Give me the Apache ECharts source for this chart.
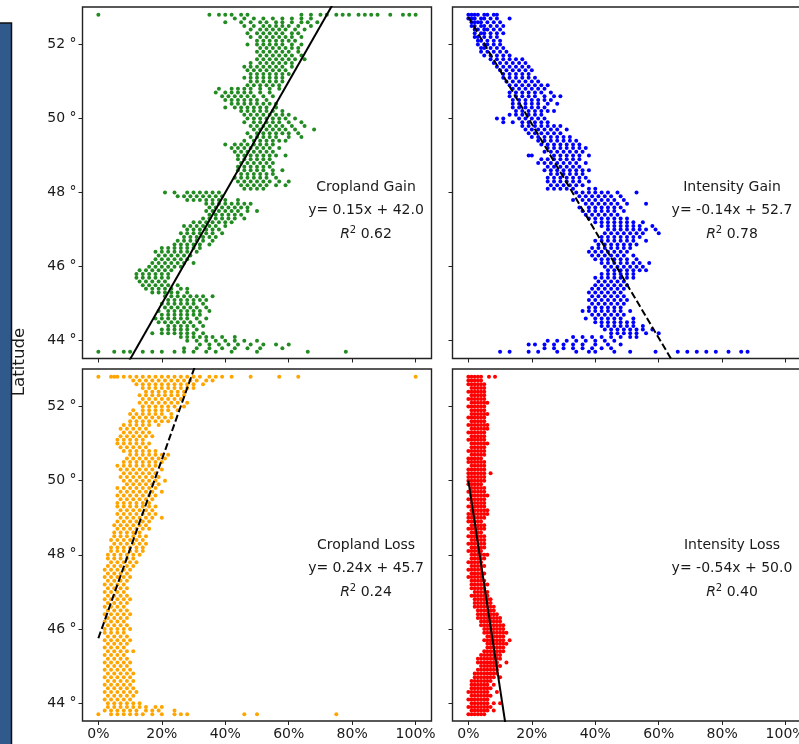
<!DOCTYPE html>
<html>
<head>
<meta charset="utf-8">
<script src="https://cdn.jsdelivr.net/npm/echarts@6.0.0/dist/echarts.min.js"></script>
<style>
  html, body { margin: 0; padding: 0; background: #fff; }
  #chart { width: 799px; height: 744px; }
</style>
</head>
<body>
<div id="chart"></div>
<script>
// latitude rows (top to bottom), one row of x values per latitude in each panel
const latitudes = [52.8,52.7,52.6,52.5,52.4,52.3,52.2,52.1,52.0,51.9,51.8,51.7,51.6,51.5,51.4,51.3,51.2,51.1,51.0,
  50.9,50.8,50.7,50.6,50.5,50.4,50.3,50.2,50.1,50.0,49.9,49.8,49.7,49.6,49.5,49.4,49.3,49.2,49.1,49.0,
  48.9,48.8,48.7,48.6,48.5,48.4,48.3,48.2,48.1,48.0,47.9,47.8,47.7,47.6,47.5,47.4,47.3,47.2,47.1,47.0,
  46.9,46.8,46.7,46.6,46.5,46.4,46.3,46.2,46.1,46.0,45.9,45.8,45.7,45.6,45.5,45.4,45.3,45.2,45.1,45.0,
  44.9,44.8,44.7,44.6,44.5,44.4,44.3,44.2,44.1,44.0,43.9,43.8,43.7];

const cropGainX = [
  [0,35,38,40,42,45,47,64,67,70,72,75,77,79,82,84,86,88,92,96,98,100],
  [43,46,49,52,55,58,61,64,67],[40,45,48,51,53,56,58,61,64,66,69],[46,49,52,54,56,58,60,63,67],
  [48,51,53,55,57,59,62,65],[47,50,52,54,56,58,61,63],[48,51,53,55,57,59,61,64],[50,52,54,56,58,60,62],
  [47,50,52,54,56,58,61,64],
  // 51.9
  [51,53,55,57,59,61,63],[50,52,54,56,58,60,63],[51,53,55,57,59,61,64],[50,52,54,56,58,60,62,65],
  [48,51,53,55,57,59,61],[46,48,50,52,54,56,58,61],[47,49,51,53,55,57,59],[48,50,52,54,56,58,60],
  [46,48,50,52,54,56,58],[48,50,52,54,56,58],
  // 50.9
  [47,49,51,53,55,57],[38,42,44,46,48,51,54,57],[37,40,42,44,46,48,51,54],[39,41,43,45,47,49,52,55],
  [40,42,44,46,48,50,53],[42,44,46,48,50,52,54,56],[40,43,45,47,49,51,53,56],[45,47,49,51,53,55,58],
  [46,48,50,52,54,56,58,60],[47,49,51,53,55,57,59,62],
  // 49.9
  [46,49,51,53,55,57,60,64],[48,50,52,54,56,58,61,65],[49,51,53,55,57,59,62,68],[47,50,52,54,56,58,60,63],
  [48,50,52,54,56,60,64],[46,49,51,53,55,57,59],[40,43,45,47,49,51,53,55],[42,44,46,48,50,52,54,57],
  [43,45,47,49,51,53,55],[44,46,48,50,52,54,56,59],
  // 48.9
  [44,46,48,50,52,54],[45,47,49,51,53,55],[44,46,48,50,52,54],[44,46,48,50,52,55,58],
  [45,47,49,51,53,55],[43,45,47,49,51,53,56],[44,46,48,50,52,54,57,60],[45,47,49,51,53,56,59],
  [46,48,50,52],[21,24,28,30,32,34,36,38],
  // 47.9
  [25,27,29,31,33,35,37,39],[28,30,32,34,36,38,40,44],[34,36,38,40,42,44,46,48],[35,37,39,41,43,45,47],
  [34,36,38,40,42,44,47,50],[35,37,39,41,43,45],[33,35,37,39,41,43,46],[30,32,34,36,38,40,42],
  [27,29,31,33,35,37,40],[28,30,32,34,36,38],
  // 46.9
  [26,28,30,32,34,36,39],[27,29,31,33,35,37],[25,27,29,31,33,36],[24,26,28,30,32,35],
  [20,22,24,26,28,30,32],[18,20,22,24,26,28,31],[19,21,23,25,27,29],[18,20,22,24,26,28],
  [17,19,21,23,25,27,30],[16,18,20,22,24,26],
  // 45.9
  [13,15,17,19,21,23],[12,14,16,18,20,22],[12,14,16,18,20,22],[13,15,17,19,21],
  [14,16,18,20,22,25],[15,17,19,21,23,26,28],[17,19,21,23,25,28],[21,23,25,27,29,31,33,36],
  [22,24,26,28,30,32,34],[20,22,24,26,28,30,33],
  // 44.9
  [21,23,25,27,29,31,34],[19,22,24,26,28,30,32,35],[20,22,24,26,28,30,32],[18,20,22,24,26,28,31,34],
  [19,21,23,25,27,29,32],[22,24,26,28,30,33],[20,22,24,26,28,31],[17,20,22,24,26,28,30,33],
  [26,28,30,32,34,36,39,43],[28,31,34,37,40,43,46,50],
  // 43.9
  [32,35,38,41,44,48,52,56,60],[27,31,35,39,43,47,51,58],
  [0,5,8,10,14,17,20,24,27,30,34,37,42,50,66,78]
];

const intensityGainX = [
  [0,1,2,3,5,6,8,9],
  [0,1,2,4,5,7,9,13],[1,2,3,4,6,8,10],[1,2,4,5,7,9,11],[2,3,5,6,8,10],[2,4,5,7,9,11],
  [2,3,5,7,9],[3,4,6,8,10],[3,5,6,8,10],
  // 51.9
  [4,5,7,9,11],[4,6,8,10,12],[5,7,9,11,13],[7,9,11,13,15,17],[8,10,12,14,16,18],
  [9,11,13,15,17,19],[10,12,14,16,18,20],[11,13,15,17,19],[11,13,15,17,19,21],[12,14,16,18,20,22],
  // 50.9
  [13,15,17,19,21,23,25],[14,16,18,20,22,24],[13,15,17,19,21,23,26],[13,15,17,19,21,24,27,29],
  [14,16,18,20,22,24,26],[14,16,18,20,22,25,28],[14,16,18,20,22,24],[15,17,19,21,23,25,27],
  [13,15,17,19,21,23],[9,11,16,18,20,22,24],
  // 49.9
  [11,14,17,19,21,23,25],[17,19,21,23,25,27,29],[18,20,22,24,26,28,31],[19,21,23,25,27,29],
  [20,22,24,26,28,30,32],[22,24,26,28,30,32,34],[23,25,27,29,31,33,35],[25,27,29,31,33,35,37],
  [24,26,28,30,32,34,36],[19,20,27,29,31,33,35,38],
  // 48.9
  [23,25,27,29,31,33,35],[22,24,26,28,30,32,34,37],[25,27,29,31,33,35],[24,26,28,30,32,34,36,38],
  [26,28,30,32,34,36],[25,27,29,31,33,35,37],[25,27,29,31,33,35,38],[26,28,30,32,34,36],
  [25,27,29,31,33,38,40],[34,36,38,40,42,44,47,53],
  // 47.9
  [35,37,39,41,43,45,48],[33,36,38,40,42,44,46,49],[37,39,41,43,45,47,50,56],[35,38,40,42,44,46,48],
  [36,38,40,42,44,46,49],[37,39,41,43,45,47],[38,40,42,44,46,48,50],[40,42,44,46,48,50,52,55],
  [42,44,46,48,50,52,54,58],[44,46,48,50,52,54,56,59],
  // 46.9
  [43,45,47,49,51,53,55,60],[42,44,46,48,50,52,54],[40,42,44,46,48,50,52,56],[41,43,45,47,49,51,53],
  [39,41,43,45,47,49,51],[38,40,42,44,46,48,50],[39,41,43,45,47,49,52],[40,42,44,46,48,50,53],
  [42,44,46,48,50,52,54,57],[43,45,47,49,51,53,55],
  // 45.9
  [44,46,48,50,52,54,56],[42,44,46,48,50,52],[40,42,44,46,48,50,52],[41,43,45,47,49],
  [40,42,44,46,48,50],[39,41,43,45,47,49],[38,40,42,44,46,48],[39,41,43,45,47,49],
  [38,40,42,44,46,48,50],[39,41,43,45,47,49],
  // 44.9
  [38,40,42,44,46,48],[36,38,40,42,44,46,48,51],[39,41,43,45,47,49],[37,40,42,44,46,48,52],
  [40,42,44,46,48,50,52],[42,44,46,48,50,52,55],[43,45,47,49,51,53,55,58],[45,47,49,51,53,56,60],
  [33,36,39,42,45,48,51,53],[25,28,31,34,37,40,43,46],
  // 43.9
  [19,21,24,27,30,33,36,40,44,48],[24,27,30,33,36,39,42,45],
  [10,13,19,22,28,34,38,40,46,51,59,66,69,72,75,78,82,86,88]
];

const cropLossX = [
  [0,4,5,6,8,10,12,14,16,18,20,22,24,26,28,30,32,35,37,39,42,48,57,63,100],
  [11,13,15,17,19,21,23,25,27,29,31,34,36],[12,14,16,18,20,22,24,26,28,30,33],[14,16,18,20,22,24,26,28,30],
  [15,17,19,21,23,25,27],[13,15,17,19,21,23,25,27],[14,16,18,20,22,24,26],[13,15,17,19,21,23,25,28],
  [14,16,18,20,22,24,27],
  // 51.9
  [11,14,16,18,20,22,25],[10,12,14,16,18,20,23],[11,13,15,17,19,21,23],[10,12,14,16,18,20,22],
  [8,10,12,14,16,19],[7,9,11,13,15],[8,10,12,14,16],[7,9,11,13,15,17],[6,8,10,12,14],[6,8,10,12,14,16],
  // 50.9
  [7,9,11,13,15],[8,10,12,14,16,18],[10,12,14,16,18,20,22],[9,11,13,15,17,19,21],[8,10,12,14,16,18,20],
  [6,8,10,12,14,16,18],[7,9,11,13,15,17,20],[8,10,12,14,16,18],[7,9,11,13,15,17,19],[8,10,12,14,16,18,21],
  // 49.9
  [9,11,13,15,17,19],[6,8,10,12,14,16,18],[7,9,11,13,15,17,20],[6,8,10,12,14,16,18],[7,9,11,13,15,17],
  [6,8,10,12,14,16],[6,8,10,12,14,16,18],[7,9,11,13,15,17],[6,8,10,12,14,16,18],[7,9,11,13,15,17,20],
  // 48.9
  [6,8,10,12,14,16],[5,7,9,11,13,15],[6,8,10,12,14,16],[5,7,9,11,13],[5,7,9,11,13,15],
  [4,6,8,10,12,14],[5,7,9,11,13,15],[4,6,8,10,12,14],[4,6,8,10,12,14],[3,5,7,9,11,13],
  // 47.9
  [3,5,7,9,11],[4,6,8,10,12],[3,5,7,9,11],[2,4,6,8,10],[3,5,7,9],
  [2,4,6,8,10],[3,5,7,9],[2,4,6,8],[3,5,7,9],[2,4,6,8],
  // 46.9
  [3,5,7,9],[2,4,6,8,10],[3,5,7,9],[2,4,6,8],[3,5,7,9],
  [2,4,6,8,10],[3,5,7,9],[2,4,6,8],[3,5,7,9],[2,4,6,8,10],
  // 45.9
  [2,4,6,8],[3,5,7,9],[2,4,6,8,10],[3,5,7,9],[2,4,6,8],
  [3,5,7,9,11],[2,4,6,8],[3,5,7,9],[2,4,6,8,10],[3,5,7,9],
  // 44.9
  [2,4,6,8,10],[3,5,7,9,11],[2,4,6,8,10],[3,5,7,9,11],[2,4,6,8,10],
  [3,5,7,9,11],[2,4,6,8,10,12],[3,5,7,9,11],[2,4,6,8,10],[3,5,7,9,11,13],
  // 43.9
  [3,5,7,9,11,13,15,18,20],[2,4,6,8,10,12,15,17,19,24],
  [0,4,6,8,10,12,14,17,20,24,26,28,46,50,75]
];

const intensityLossX = [
  [0,1,2,3,4,6.5,8.4],
  [0,1,2,3,4],[0,1,2,3,4,5],[1,2,3,4,5],[0,1,2,3,4,5],[1,2,3,4,5],[0,1,2,3,4,5],[1,2,3,4,5,6],
  [0,1,2,3,4,5],
  // 51.9
  [1,2,3,4,5],[1,2,3,4,5,6],[0,1,2,3,4,5],[1,2,3,4,5],[0,1,2,3,4,5,6],
  [1,2,3,4,5,6],[0,1,2,3,4,5],[1,2,3,4,5],[0,1,2,3,4,5],[1,2,3,4,5,6],
  // 50.9
  [1,2,3,4,5],[0,1,2,3,4,5],[1,2,3,4,5],[0,1,2,3,4],[0,1,2,3,4,5],
  [1,2,3,4,5],[0,1,2,3,4,5],[0,1,2,3,4,5,7],[0,1,2,3,4,5],[0,1,2,3,4,5],
  // 49.9
  [0,1,2,3,4],[1,2,3,4,5],[0,1,2,3,4,5],[1,2,3,4,5,6],[0,1,2,3,4,5],
  [1,2,3,4,5],[0,1,2,3,4,5],[1,2,3,4,5,6],[0,1,2,3,4,5,6],[0,1,2,3,4,5],
  // 48.9
  [0,1,2,3,4],[1,2,3,4,5],[0,1,2,3,4,5],[1,2,3,4],[0,1,2,3,4,5],
  [1,2,3,4,5],[0,1,2,3,4,5],[1,2,3,4,5],[0,1,2,3,4],[1,2,3,4,5,6],
  // 47.9
  [1,2,3,4,5],[0,1,2,3,4],[1,2,3,4,5],[0,1,2,3,4],[1,2,3,4,5],
  [0,1,2,3,4],[1,2,3,4,5],[1,2,3,4,5,6],[1,2,3,4,5],[2,3,4,5,6],
  // 46.9
  [1,2,3,4,5,6],[2,3,4,5,6,7],[2,3,4,5,6,7],[2,3,4,5,6,7,8],[3,4,5,6,7,8],
  [3,4,5,6,7,8,9],[3,4,5,6,7,8,9,10],[4,5,6,7,8,9,10],[4,5,6,7,8,9,10,11],[5,6,7,8,9,10,11],
  // 45.9
  [5,6,7,8,9,10,11,12],[6,7,8,9,10,11],[5,6,7,8,9,10,11,13],[6,7,8,9,10,11,12],[6,7,8,9,10,11],
  [5,6,7,8,9,10,11],[4,5,6,7,8,9,10],[3,4,5,6,7,8,9,10],[3,4,5,6,7,8,9,12],[4,5,6,7,8,9,10],
  // 44.9
  [3,4,5,6,7,8,9],[2,3,4,5,6,7,8,9],[2,3,4,5,6,7,8,10],[1,2,3,4,5,6,7],[1,2,3,4,5,6,8],
  [1,2,3,4,5,6,7],[0,1,2,3,4,5,6,9],[1,2,3,4,5,6,7],[0,1,2,3,4,5,6],[1,2,3,4,5,6,8,10],
  // 43.9
  [0,1,2,3,4,5,6,7],[1,2,3,4,5,6,8],[0,1,2,3,4,5]
];

// regression lines, two end points each [x %, latitude]
const cropGainFit = [[0, 42.0], [100, 57.0]];
const intensityGainFit = [[0, 52.74], [70, 42.63]];
const cropLossFit = [[0, 45.75], [35, 54.18]];
const intensityLossFit = [[0, 50.0], [13, 42.7]];

const panelTitles = ['Cropland Gain', 'Intensity Gain', 'Cropland Loss', 'Intensity Loss'];
const equations = ['y= 0.15x + 42.0', 'y= -0.14x + 52.7', 'y= 0.24x + 45.7', 'y= -0.54x + 50.0'];
const rSquared = ['0.62', '0.78', '0.24', '0.40'];

const xTicks = [0, 20, 40, 60, 80, 100];
const yTicks = [44, 46, 48, 50, 52];

const FONT = 'DejaVu Sans';
const TXT = '#1a1a1a';

const panels = [
  { x: cropGainX, fit: cropGainFit, color: '#228b22', dashed: false },
  { x: intensityGainX, fit: intensityGainFit, color: '#0000ff', dashed: true },
  { x: cropLossX, fit: cropLossFit, color: '#ffa500', dashed: true },
  { x: intensityLossX, fit: intensityLossFit, color: '#ff0000', dashed: false },
];

// plot boxes in pixels
const boxes = [
  { left: 82.5, top: 7, width: 349, height: 351.5 },
  { left: 452.5, top: 7, width: 349, height: 351.5 },
  { left: 82.5, top: 369, width: 349, height: 352 },
  { left: 452.5, top: 369, width: 349, height: 352 },
];

const chart = echarts.init(document.getElementById('chart'), null, { renderer: 'canvas' });

const grid = boxes.map(b => ({
  left: b.left, top: b.top, width: b.width, height: b.height,
  show: true, borderColor: '#222', borderWidth: 1.4, backgroundColor: 'transparent',
  containLabel: false, outerBoundsMode: 'none',
}));

const xAxis = boxes.map((b, i) => ({
  type: 'value', gridIndex: i, min: -5, max: 105,
  axisLine: { show: false, onZero: false },
  splitLine: { show: false },
  axisTick: { show: true, customValues: xTicks, length: 4, lineStyle: { color: '#222', width: 1 } },
  axisLabel: {
    show: i >= 2, customValues: xTicks, formatter: v => v + '%',
    fontFamily: FONT, fontSize: 14, color: TXT, margin: 6,
  },
}));

const yAxis = boxes.map((b, i) => ({
  type: 'value', gridIndex: i, min: 43.52, max: 53.01,
  axisLine: { show: false, onZero: false },
  splitLine: { show: false },
  axisTick: { show: true, customValues: yTicks, length: 4, lineStyle: { color: '#222', width: 1 } },
  axisLabel: {
    show: i % 2 === 0, customValues: yTicks, formatter: v => v + ' °',
    fontFamily: FONT, fontSize: 14, color: TXT, margin: 6,
  },
}));

const series = [];
panels.forEach((p, i) => {
  const pts = [];
  p.x.forEach((row, r) => row.forEach(v => pts.push([v, latitudes[r]])));
  series.push({
    type: 'scatter', xAxisIndex: i, yAxisIndex: i, data: pts,
    symbol: 'circle', symbolSize: 4, itemStyle: { color: p.color, opacity: 1 },
    silent: true, z: 2,
  });
  series.push({
    type: 'line', xAxisIndex: i, yAxisIndex: i, data: p.fit,
    showSymbol: false, symbol: 'none', clip: true, silent: true, z: 3,
    lineStyle: { color: '#000', width: 2, type: p.dashed ? [7, 3] : 'solid' },
  });
});

const textCenters = [[366, 187], [732, 187], [366, 545], [732, 545]];
const graphic = [
  {
    type: 'rect', shape: { x: -3, y: 23, width: 14.5, height: 740 },
    style: { fill: '#2f5a8b', stroke: '#111', lineWidth: 1.5 }, silent: true,
  },
  {
    type: 'text', x: 20, y: 362, rotation: Math.PI / 2,
    style: { text: 'Latitude', font: '16.7px "DejaVu Sans"', fill: TXT, align: 'center', verticalAlign: 'middle' },
  },
];
textCenters.forEach(([cx, cy], i) => {
  graphic.push({
    type: 'text', x: cx, y: cy,
    style: { text: panelTitles[i], font: '14px "DejaVu Sans"', fill: TXT, align: 'center', verticalAlign: 'middle' },
  });
  graphic.push({
    type: 'text', x: cx, y: cy + 23.5,
    style: { text: equations[i], font: '14px "DejaVu Sans"', fill: TXT, align: 'center', verticalAlign: 'middle' },
  });
  graphic.push({
    type: 'text', x: cx, y: cy + 47,
    style: {
      text: '{i|R}{s|2}{n| ' + rSquared[i] + '}',
      align: 'center', verticalAlign: 'middle',
      rich: {
        i: { fontFamily: FONT, fontSize: 14, fontStyle: 'italic', fill: TXT, lineHeight: 18 },
        s: { fontFamily: FONT, fontSize: 10, fill: TXT, verticalAlign: 'top', lineHeight: 18 },
        n: { fontFamily: FONT, fontSize: 14, fill: TXT, lineHeight: 18 },
      },
    },
  });
});

chart.setOption({
  animation: false,
  backgroundColor: '#fff',
  grid, xAxis, yAxis, series, graphic,
});
</script>
</body>
</html>
